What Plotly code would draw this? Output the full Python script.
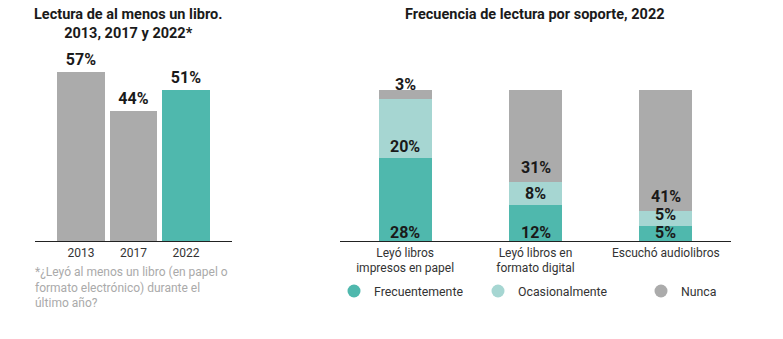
import plotly.graph_objects as go
import numpy as np

# ---- data ----
years = ["2013", "2017", "2022"]
read_pct = [57, 44, 51]
year_colors = ["#ababab", "#ababab", "#4fb8ad"]

supports = ["Leyó libros<br>impresos en papel", "Leyó libros en<br>formato digital", "Escuchó audiolibros"]
frecuente = [28, 12, 5]
ocasional = [20, 8, 5]
nunca = [3, 31, 41]
series_names = ["Frecuentemente", "Ocasionalmente", "Nunca"]
series_colors = ["#4fb8ad", "#a6d6d2", "#ababab"]

title_left = "Lectura de al menos un libro.<br>2013, 2017 y 2022*"
title_right = "Frecuencia de lectura por soporte, 2022"
footnote = "*¿Leyó al menos un libro (en papel o<br>formato electrónico) durante el<br>último año?"

FONT = "Roboto"
W, H = 783, 339
PX_PER_PCT = 2.96
BASE_Y = 241
ymax = BASE_Y / PX_PER_PCT

fig = go.Figure()

# left chart
fig.add_trace(go.Bar(
    x=years, y=read_pct, marker=dict(color=year_colors, line=dict(width=0)),
    width=0.914, text=[f"<b>{v}%</b>" for v in read_pct], textposition="outside",
    textfont=dict(family=FONT, size=16, color="#1a1a1a"), cliponaxis=False,
    showlegend=False, xaxis="x", yaxis="y", hoverinfo="skip"))

# right chart stacked
stacks = [frecuente, ocasional, nunca]
for name, vals, col in zip(series_names, stacks, series_colors):
    fig.add_trace(go.Bar(
        x=supports, y=vals, name=name, marker=dict(color=col, line=dict(width=0)),
        width=0.406, showlegend=False, xaxis="x2", yaxis="y2", hoverinfo="skip"))

# labels for stacked segments (label sits near the bottom of its segment)
label_lift = [-3, 0, 3]  # px lift per series
bases = np.cumsum([[0] * 3] + stacks[:-1], axis=0)
annotations = []
for vals, base, lift in zip(stacks, bases, label_lift):
    for cat, v, b in zip(supports, vals, base):
        annotations.append(dict(
            x=cat, y=float(b), xref="x2", yref="y2", text=f"<b>{v}%</b>",
            showarrow=False, yanchor="bottom", yshift=lift,
            font=dict(family=FONT, size=16, color="#1a1a1a")))

# legend entries (circle markers)
legend_keys = ["legend", "legend2", "legend3"]
legend_x = [354, 498, 661]
for name, col, lk in zip(series_names, series_colors, legend_keys):
    fig.add_trace(go.Scatter(
        x=[None], y=[None], mode="markers", name=name, legend=lk,
        marker=dict(symbol="circle", size=13, color=col),
        xaxis="x2", yaxis="y2", showlegend=True))

legend_common = dict(orientation="h", yanchor="middle", y=1 - 291 / H, xanchor="left",
                     font=dict(family=FONT, size=12.3, color="#333333"),
                     bgcolor="rgba(0,0,0,0)", borderwidth=0, itemclick=False)
legends = {}
for lk, lx in zip(legend_keys, legend_x):
    legends[lk] = dict(legend_common, x=(lx - 20) / W)

# titles & footnote
annotations.append(dict(x=128 / W, y=1 - 24 / H, xref="paper", yref="paper", text=f"<b>{title_left}</b>",
                        showarrow=False, xanchor="center", yanchor="middle",
                        font=dict(family=FONT, size=14.5, color="#1a1a1a")))
annotations.append(dict(x=535 / W, y=1 - 15 / H, xref="paper", yref="paper", text=f"<b>{title_right}</b>",
                        showarrow=False, xanchor="center", yanchor="middle",
                        font=dict(family=FONT, size=14.5, color="#1a1a1a")))
annotations.append(dict(x=33 / W, y=1 - 287 / H, xref="paper", yref="paper", text=footnote,
                        showarrow=False, xanchor="left", yanchor="middle", align="left",
                        font=dict(family=FONT, size=12, color="#aaaaaa")))

axis_x_common = dict(type="category", showline=True, linecolor="#222222", linewidth=1.3,
                     showgrid=False, zeroline=False, ticks="", fixedrange=True,
                     tickfont=dict(family=FONT, size=12, color="#333333"))
axis_y_common = dict(visible=False, range=[0, ymax], domain=[1 - BASE_Y / H, 1], fixedrange=True)

fig.update_layout(
    width=W, height=H, margin=dict(l=0, r=0, t=0, b=0),
    paper_bgcolor="white", plot_bgcolor="white", barmode="stack",
    font=dict(family=FONT),
    xaxis=dict(axis_x_common, domain=[35 / W, 232 / W], range=[-0.876, 2.876], anchor="y"),
    yaxis=dict(axis_y_common, anchor="x"),
    xaxis2=dict(axis_x_common, domain=[340 / W, 731 / W], range=[-0.5, 2.5], anchor="y2"),
    yaxis2=dict(axis_y_common, anchor="x2"),
    annotations=annotations,
    **legends,
)

fig.write_html("out.html", config={"displayModeBar": False})
